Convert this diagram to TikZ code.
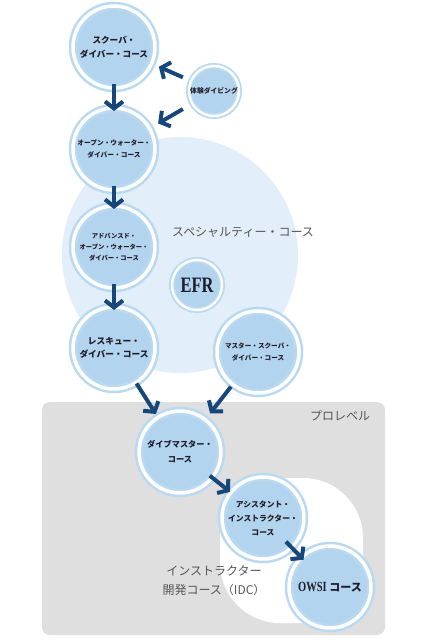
\documentclass[tikz,border=0pt]{standalone}
\usepackage{fontspec}
\usetikzlibrary{arrows.meta}
\newfontfamily\jp{Noto Sans CJK JP}
\newfontfamily\efrfont{Liberation Serif}[FakeStretch=0.75]
\definecolor{specialty}{HTML}{E2EFFA}
\definecolor{ringblue}{HTML}{B9D9F1}
\definecolor{courseblue}{HTML}{B3D4EF}
\definecolor{progray}{HTML}{DFDFDF}
\definecolor{arrowblue}{HTML}{17467A}
\definecolor{labelgray}{HTML}{555555}
\definecolor{coursetext}{HTML}{1E1E2A}

\begin{document}
\begin{tikzpicture}[x=1pt,y=-1pt]
\tikzstyle{course}=[circle, fill=courseblue, draw=ringblue, line width=2.5pt, double=white, double distance=3.5pt, minimum size=82pt, inner sep=0pt, outer sep=0pt, align=center, text=coursetext, font=\jp\bfseries\fontsize{8}{14}\selectfont]
\tikzstyle{small course}=[course, line width=1.8pt, double distance=2.5pt, minimum size=50pt]
\tikzstyle{flow}=[draw=arrowblue, line width=4pt, -{Straight Barb[length=7pt,width=18pt]}]
\tikzstyle{area label}=[text=labelgray, align=center, font=\jp\fontsize{12}{19}\selectfont]

\useasboundingbox (0,0) rectangle (427,640);
\fill[white] (0,0) rectangle (427,640);
\fill[specialty] (180,255) circle (118pt);
\fill[progray, rounded corners=8pt] (42,402) rectangle (385,635);
\fill[white, rounded corners=60pt] (220,478) rectangle (363,623);

\node[area label] (specialtylabel) at (243,232) {スペシャルティー・コース};
\node[area label] (prolabel) at (340,416) {プロレベル};
\node[area label] (idclabel) at (214,581) {インストラクター\\開発コース（IDC）};

\node[course, font=\jp\bfseries\fontsize{8.6}{14}\selectfont] (scuba) at (114,47) {スクーバ・\\ダイバー・コース};
\node[course, font=\jp\bfseries\fontsize{6.7}{12}\selectfont] (openwater) at (114,149) {オープン・ウォーター・\\ダイバー・コース};
\node[course, font=\jp\bfseries\fontsize{6.3}{11}\selectfont] (advanced) at (114,247) {アドバンスド・\\オープン・ウォーター・\\ダイバー・コース};
\node[course, font=\jp\bfseries\fontsize{8.7}{13}\selectfont] (rescue) at (114,348) {レスキュー・\\ダイバー・コース};
\node[course, font=\jp\bfseries\fontsize{6.6}{12}\selectfont] (master) at (258,352) {マスター・スクーバ・\\ダイバー・コース};
\node[course, font=\jp\bfseries\fontsize{8.2}{15}\selectfont] (divemaster) at (180,452) {ダイブマスター・\\コース};
\node[course, font=\jp\bfseries\fontsize{7.8}{14}\selectfont] (assistant) at (263,518) {アシスタント・\\インストラクター・\\コース};
\node[course, font=\jp\bfseries\fontsize{11}{14}\selectfont] (owsi) at (330,587) {{\efrfont\fontsize{14}{14}\selectfont OWSI} コース};
\node[small course, font=\jp\bfseries\fontsize{6.8}{9}\selectfont] (taiken) at (214,91) {体験ダイビング};
\node[small course, font=\efrfont\bfseries\fontsize{22}{24}\selectfont] (efr) at (197,285) {EFR};

\draw[flow, shorten <=-4pt, shorten >=-3pt] (scuba) -- (openwater);
\draw[flow, shorten <=-4pt, shorten >=-3pt] (openwater) -- (advanced);
\draw[flow, shorten <=-4pt, shorten >=-3pt] (advanced) -- (rescue);
\draw[flow, shorten <=9pt, shorten >=8pt] (taiken) -- (scuba);
\draw[flow, shorten <=11pt, shorten >=10pt] (taiken) -- (openwater);
\draw[flow, shorten <=1pt, shorten >=4pt] (rescue) -- (divemaster);
\draw[flow, shorten <=3pt, shorten >=8pt] (master) -- (divemaster);
\draw[flow, shorten <=-3pt, shorten >=1pt] (divemaster) -- (assistant);
\draw[flow, shorten <=-8pt, shorten >=-3pt] (assistant) -- (owsi);

\end{tikzpicture}
\end{document}
